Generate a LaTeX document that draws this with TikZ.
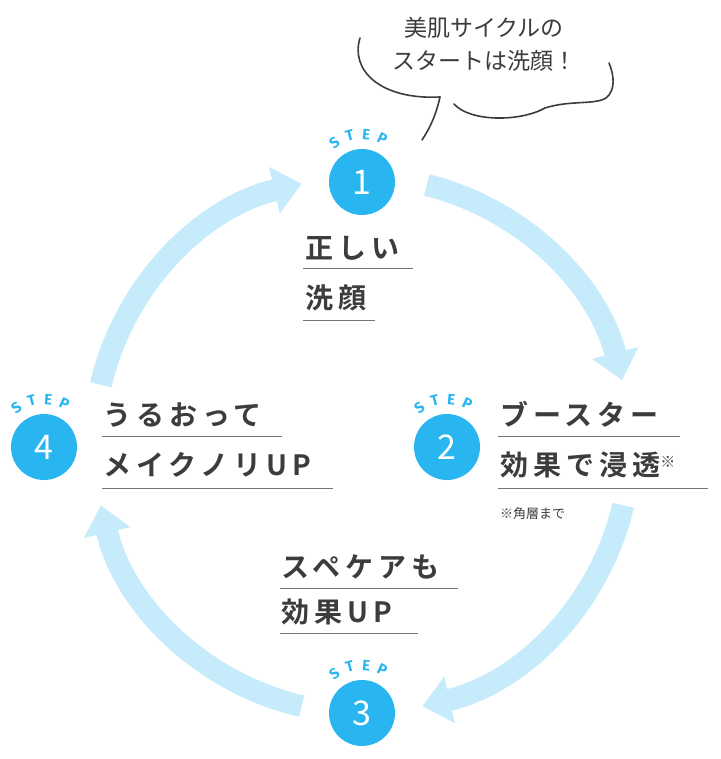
\documentclass[tikz,border=0pt]{standalone}
\usepackage{fontspec}
\setmainfont{Noto Sans CJK JP}
\newfontfamily\jpb{Noto Sans CJK JP Bold}[LetterSpace=18]
\newfontfamily\jpr{Noto Sans CJK JP}
\newfontfamily\stepf{Fira Sans}[BoldFont={Fira Sans Bold}]
\usetikzlibrary{arrows.meta,calc}
\definecolor{ring}{HTML}{C6EBFB}
\definecolor{badge}{HTML}{29B6F0}
\definecolor{ink}{HTML}{3C3C3C}
\newcommand{\stepword}[1]{%
  \foreach \ch/\ang in {S/125,T/105,E/85,P/65}{%
    \node[stp,rotate=\ang-90] at ($(#1)+(-\ang:48)$) {\ch};}}
\begin{document}
\begin{tikzpicture}[x=1pt,y=-1pt,
  arc/.style={draw=ring,line width=22pt,-{Triangle[width=46pt,length=28pt]}},
  badge/.style={circle,fill=badge,minimum size=66pt,inner sep=0pt,text=white,font=\jpr\fontsize{34}{34}\selectfont},
  lab/.style={anchor=base west,text=ink,inner sep=0pt,font=\jpb\fontsize{28}{28}\selectfont},
  ul/.style={draw=ink!70,line width=1pt},
  stp/.style={text=badge,font=\stepf\bfseries\fontsize{15}{15}\selectfont,inner sep=0pt},
  bub/.style={draw=ink,line width=1.6pt,line cap=round}]
\useasboundingbox (0,0) rectangle (720,759);
\coordinate (c) at (362,445);
% ring arrows
\draw[arc] ($(c)+(-76:268)$) arc[start angle=-76,end angle=-14,radius=268];
\draw[arc] ($(c)+(13:268)$) arc[start angle=13,end angle=77,radius=268];
\draw[arc] ($(c)+(103:268)$) arc[start angle=103,end angle=167,radius=268];
\draw[arc] ($(c)+(-167:268)$) arc[start angle=-167,end angle=-103,radius=268];
% badges
\node[badge] (s1) at (362,182) {1};
\node[badge] (s2) at (447,447) {2};
\node[badge] (s3) at (362,713) {3};
\node[badge] (s4) at (44,447) {4};
\stepword{s1}\stepword{s2}\stepword{s3}\stepword{s4}
% labels
\node[lab] (l1a) at (305,258) {正しい};
\draw[ul] (303,268) -- (413,268);
\node[lab] (l1b) at (305,308) {洗顔};
\draw[ul] (303,320) -- (375,320);
\node[lab] (l2a) at (500,425) {ブースター};
\draw[ul] (498,436) -- (680,436);
\node[lab] (l2b) at (500,475) {効果で浸透\raisebox{8pt}{\fontsize{15}{15}\selectfont ※}};
\draw[ul] (498,488) -- (708,488);
\node[anchor=base west,inner sep=0pt,text=ink,font=\jpr\fontsize{13}{13}\selectfont] (l2c) at (500,518) {※角層まで};
\node[lab] (l4a) at (103,425) {うるおって};
\draw[ul] (102,436) -- (282,436);
\node[lab] (l4b) at (103,475) {メイクノリUP};
\draw[ul] (102,488) -- (333,488);
\node[lab] (l3a) at (281,577) {スペケアも};
\draw[ul] (280,588) -- (458,588);
\node[lab] (l3b) at (281,622) {効果UP};
\draw[ul] (280,633) -- (418,633);
% speech bubble
\node[text=ink,font=\jpr\fontsize{23}{23}\selectfont,align=center,inner sep=0pt] (bt) at (484,44) {美肌サイクルの\\[10pt]スタートは洗顔！};
\draw[bub] (360,38) .. controls (350,70) and (380,100) .. (440,97);
\draw[bub] (440,97) .. controls (436,115) and (430,128) .. (422,140);
\draw[bub] (454,104) .. controls (470,122) and (520,122) .. (545,108)
  .. controls (570,100) and (595,105) .. (606,98)
  .. controls (616,90) and (614,75) .. (609,63);
\end{tikzpicture}
\end{document}
